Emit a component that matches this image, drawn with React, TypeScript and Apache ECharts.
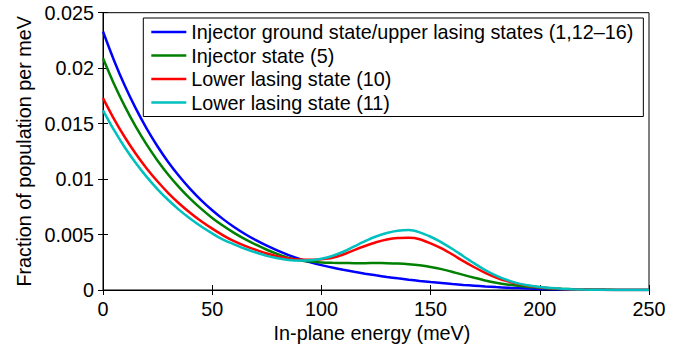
import React, { useEffect, useRef } from "react";
import * as echarts from "echarts";

const energies = [
  0, 5, 10, 15, 20, 25, 30, 35, 40, 45, 50, 55, 60, 65, 70, 75, 80, 85, 90, 95,
  100, 105, 110, 115, 120, 125, 130, 135, 140, 145, 150, 155, 160, 165, 170, 175,
  180, 185, 190, 195, 200, 205, 210, 215, 220, 225, 230, 235, 240, 245, 250,
];

const injectorGround = [
  0.0233, 0.02072, 0.01841, 0.01637, 0.01455, 0.01294, 0.0115, 0.01023, 0.00909, 0.00808,
  0.00719, 0.00639, 0.00568, 0.00505, 0.00449, 0.00399, 0.00355, 0.00315, 0.0028, 0.0025,
  0.00224, 0.00202, 0.00182, 0.00164, 0.00147, 0.00132, 0.00118, 0.00105, 0.00093, 0.00082,
  0.00072, 0.00063, 0.00054, 0.00046, 0.00039, 0.00032, 0.00026, 0.00021, 0.00017, 0.00013,
  0.0001, 0.000075, 0.000055, 0.00004, 0.000028, 0.00002, 0.000013, 0.000008, 0.000005, 0.000003, 0.000002,
];

const injector5 = [
  0.0209, 0.0186, 0.01655, 0.01472, 0.0131, 0.01166, 0.01037, 0.00923, 0.00821, 0.00731,
  0.0065, 0.00579, 0.00515, 0.00458, 0.00408, 0.00363, 0.00323, 0.0029, 0.00268, 0.00256,
  0.00249, 0.00245, 0.00243, 0.00242, 0.00242, 0.00243, 0.00242, 0.00239, 0.00233, 0.00223,
  0.00208, 0.00188, 0.00163, 0.00136, 0.0011, 0.00086, 0.00066, 0.0005, 0.00038, 0.00028,
  0.0002, 0.00014, 0.0001, 0.00007, 0.00005, 0.00003, 0.00002, 0.00001, 0.000006, 0.000003, 0.000002,
];

const lower10 = [
  0.0173, 0.01543, 0.01377, 0.01228, 0.01096, 0.00978, 0.00872, 0.00778, 0.00694, 0.00619,
  0.00553, 0.00493, 0.0044, 0.00398, 0.00362, 0.00329, 0.00303, 0.00285, 0.00275, 0.00272,
  0.00277, 0.0029, 0.0032, 0.0036, 0.00397, 0.0043, 0.00455, 0.00468, 0.0047, 0.00458,
  0.0042, 0.00375, 0.0032, 0.0026, 0.00205, 0.00155, 0.00113, 0.0008, 0.00055, 0.00037,
  0.00025, 0.00016, 0.0001, 0.00006, 0.00004, 0.00002, 0.00001, 0.000006, 0.000003, 0.000002, 0.000001,
];

const lower11 = [
  0.0162, 0.01443, 0.01285, 0.01145, 0.0102, 0.00908, 0.00809, 0.0072, 0.00642, 0.00572,
  0.0051, 0.00454, 0.00412, 0.00372, 0.00338, 0.00308, 0.00286, 0.00271, 0.00265, 0.00268,
  0.00282, 0.00307, 0.00345, 0.00393, 0.0044, 0.00482, 0.00514, 0.00534, 0.0054, 0.0052,
  0.0048, 0.0043, 0.0037, 0.00305, 0.0024, 0.0018, 0.0013, 0.0009, 0.0006, 0.0004,
  0.00026, 0.00017, 0.00011, 0.00007, 0.00004, 0.00002, 0.00001, 0.000006, 0.000003, 0.000002, 0.000001,
];

const seriesNames = [
  "Injector ground state/upper lasing states (1,12\u201316)",
  "Injector state (5)",
  "Lower lasing state (10)",
  "Lower lasing state (11)",
];
const seriesValues = [injectorGround, injector5, lower10, lower11];
const seriesColors = ["#0000ff", "#008000", "#ff0000", "#00bfbf"];

const xTicks = [0, 50, 100, 150, 200, 250];
const yTickLabels = ["0", "0.005", "0.01", "0.015", "0.02", "0.025"];

const FONT = "'Liberation Sans', Arial, Helvetica, sans-serif";
const FS = 19.8;

export default function App() {
  const ref = useRef<HTMLDivElement>(null);

  useEffect(() => {
    document.body.style.margin = "0";
    if (!ref.current) return;
    const chart = echarts.init(ref.current, undefined, { renderer: "svg" });

    const xMin = xTicks[0];
    const xMax = xTicks[xTicks.length - 1];
    const xInt = xTicks[1] - xTicks[0];
    const yMax = parseFloat(yTickLabels[yTickLabels.length - 1]);
    const yInt = parseFloat(yTickLabels[1]);

    const tickStyle = { show: true, inside: true, length: 5, lineStyle: { color: "#000", width: 1 } };
    const lineAxis = { show: true, lineStyle: { color: "#000", width: 1 } };

    chart.setOption({
      animation: false,
      backgroundColor: "#fff",
      textStyle: { fontFamily: FONT, color: "#000" },
      grid: {
        left: 103,
        right: 40,
        top: 12.7,
        bottom: 62,
        show: true,
        borderColor: "#000",
        borderWidth: 1,
        backgroundColor: "#fff",
      },
      legend: {
        show: true,
        orient: "vertical",
        left: 143.3,
        top: 18,
        padding: [4, 10, 4, 8],
        itemGap: 3.5,
        itemWidth: 35,
        itemHeight: 2.6,
        icon: "rect",
        backgroundColor: "#fff",
        borderColor: "#000",
        borderWidth: 1,
        borderRadius: 0,
        textStyle: { fontFamily: FONT, fontSize: FS, color: "#000" },
        data: seriesNames,
      },
      xAxis: [
        {
          type: "value",
          min: xMin,
          max: xMax,
          interval: xInt,
          position: "bottom",
          axisLine: lineAxis,
          axisTick: tickStyle,
          splitLine: { show: false },
          axisLabel: {
            margin: 8.5,
            fontSize: FS,
            fontFamily: FONT,
            color: "#000",
          },
          name: "In-plane energy (meV)",
          nameLocation: "middle",
          nameGap: 32.5,
          nameTextStyle: { fontSize: FS, fontFamily: FONT, color: "#000", padding: [0, 8, 0, 0] },
        },
        {
          type: "value",
          min: xMin,
          max: xMax,
          interval: xInt,
          position: "top",
          axisLine: lineAxis,
          axisTick: tickStyle,
          splitLine: { show: false },
          axisLabel: { show: false },
        },
      ],
      yAxis: [
        {
          type: "value",
          min: 0,
          max: yMax,
          interval: yInt,
          position: "left",
          axisLine: lineAxis,
          axisTick: tickStyle,
          splitLine: { show: false },
          axisLabel: {
            margin: 9,
            fontSize: FS,
            fontFamily: FONT,
            color: "#000",
            formatter: (v: number) => yTickLabels[Math.round(v / yInt)] ?? "",
          },
          name: "Fraction of population per meV",
          nameLocation: "middle",
          nameGap: 69,
          nameTextStyle: { fontSize: FS, fontFamily: FONT, color: "#000" },
        },
        {
          type: "value",
          min: 0,
          max: yMax,
          interval: yInt,
          position: "right",
          axisLine: lineAxis,
          axisTick: tickStyle,
          splitLine: { show: false },
          axisLabel: { show: false },
        },
      ],
      series: seriesNames.map((name, i) => ({
        name,
        type: "line",
        xAxisIndex: 0,
        yAxisIndex: 0,
        smooth: 0.3,
        symbol: "none",
        showSymbol: false,
        lineStyle: { color: seriesColors[i], width: 2.5 },
        itemStyle: { color: seriesColors[i] },
        data: energies.map((e, j) => [e, seriesValues[i][j]]),
      })),
    });

    return () => chart.dispose();
  }, []);

  return <div ref={ref} style={{ width: 689, height: 352 }} />;
}
